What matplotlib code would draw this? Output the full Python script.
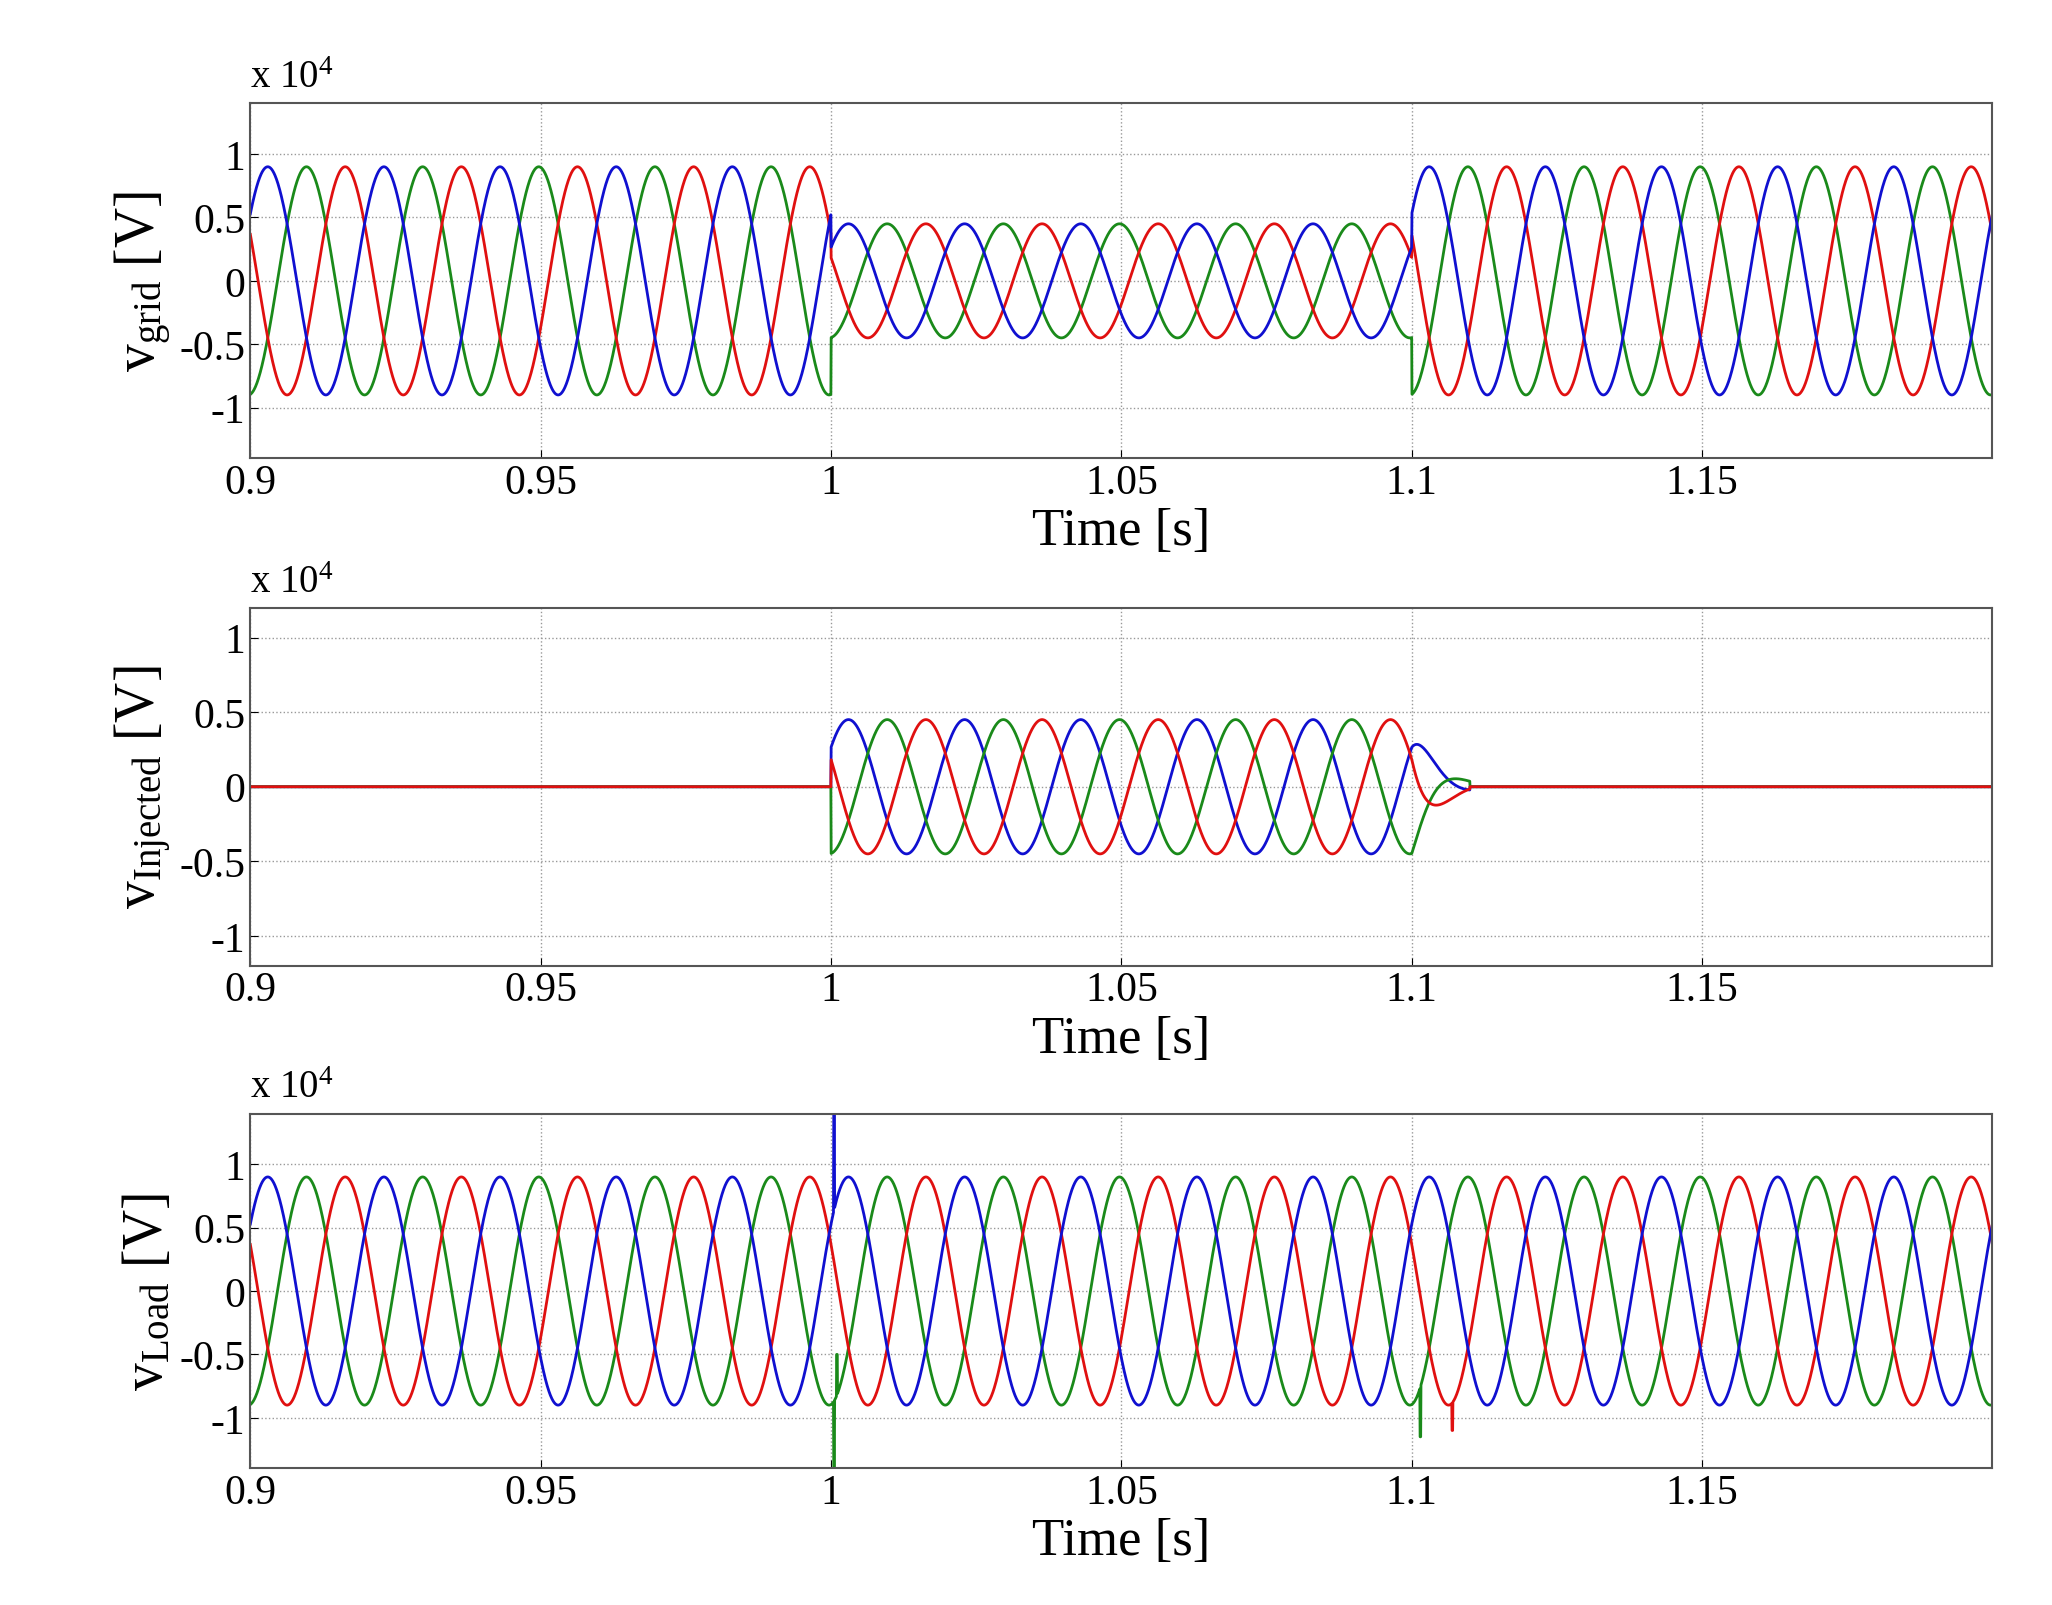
import numpy as np
import matplotlib
matplotlib.use("Agg")
import matplotlib.pyplot as plt

plt.rcParams['font.family'] = ['Liberation Serif', 'DejaVu Serif']
plt.rcParams['mathtext.fontset'] = 'custom'
plt.rcParams['mathtext.rm'] = 'Liberation Serif'
plt.rcParams['mathtext.it'] = 'Liberation Serif:italic'

# parameters
freq = 50.0
amp_normal = 0.9e4
amp_sag = 0.45e4
sag_start, sag_end = 1.0, 1.1
blue_peak_time = 0.903
phase_colors = ['#1010d0', '#1a8a1a', '#e01010']
xticks = [0.9, 0.95, 1.0, 1.05, 1.1, 1.15]
xticklabels = ['0.9', '0.95', '1', '1.05', '1.1', '1.15']
yticks = [-1, -0.5, 0, 0.5, 1]
yticklabels = ['-1', '-0.5', '0', '0.5', '1']
ylabels = [r'v$_{\mathrm{grid}}$ [V]', r'v$_{\mathrm{Injected}}$ [V]', r'v$_{\mathrm{Load}}$ [V]']
ylims = [(-1.4, 1.4), (-1.2, 1.2), (-1.4, 1.4)]
# transient spikes on load: (time, phase index, value in 1e4 V)
load_spikes = [(1.0005, 0, 1.4), (1.0005, 1, -1.4), (1.001, 1, -0.5), (1.1015, 1, -1.15), (1.107, 2, -1.1)]

t = np.linspace(0.9, 1.2, 6000)
sag = (t >= sag_start) & (t < sag_end)
rec = (t >= sag_end) & (t < sag_end + 0.01)

grid, inj, load = [], [], []
for k in range(3):
    w = np.cos(2*np.pi*freq*(t - blue_peak_time) - 2*np.pi*k/3)
    g = np.where(sag, amp_sag, amp_normal) * w
    i = np.where(sag, amp_sag * w, 0.0)
    i = i + np.where(rec, amp_sag * w * np.exp(-(t - sag_end)/0.004), 0.0)
    l = amp_normal * w
    grid.append(g / 1e4); inj.append(i / 1e4); load.append(l / 1e4)

for ts, k, v in load_spikes:
    idx = np.argmin(np.abs(t - ts))
    load[k][idx-1:idx+2] = v

fig, axes = plt.subplots(3, 1, figsize=(20.52, 16.06), dpi=100)
boxes = [(0.122, 0.714, 0.849, 0.221), (0.122, 0.398, 0.849, 0.223), (0.122, 0.085, 0.849, 0.221)]
data = [grid, inj, load]
for ax, box, d, yl, lim in zip(axes, boxes, data, ylabels, ylims):
    ax.set_position(box)
    for k in ((1, 2, 0) if d is not inj else (0, 1, 2)):
        ax.plot(t, d[k], color=phase_colors[k], lw=2)
    ax.set_xlim(0.9, 1.2)
    ax.set_ylim(*lim)
    ax.set_xticks(xticks); ax.set_xticklabels(xticklabels)
    ax.set_yticks(yticks); ax.set_yticklabels(yticklabels)
    ax.grid(True, linestyle=':', color='#999999', lw=1)
    ax.tick_params(labelsize=30, direction='in', length=6)
    ax.set_xlabel('Time [s]', fontsize=38)
    ax.set_ylabel(yl, fontsize=40)
    ax.text(0.0, 1.02, r'x 10$^4$', transform=ax.transAxes, fontsize=28, va='bottom')
    for s in ax.spines.values():
        s.set_color('#555555'); s.set_linewidth(1.5)

fig.savefig('out.png')
